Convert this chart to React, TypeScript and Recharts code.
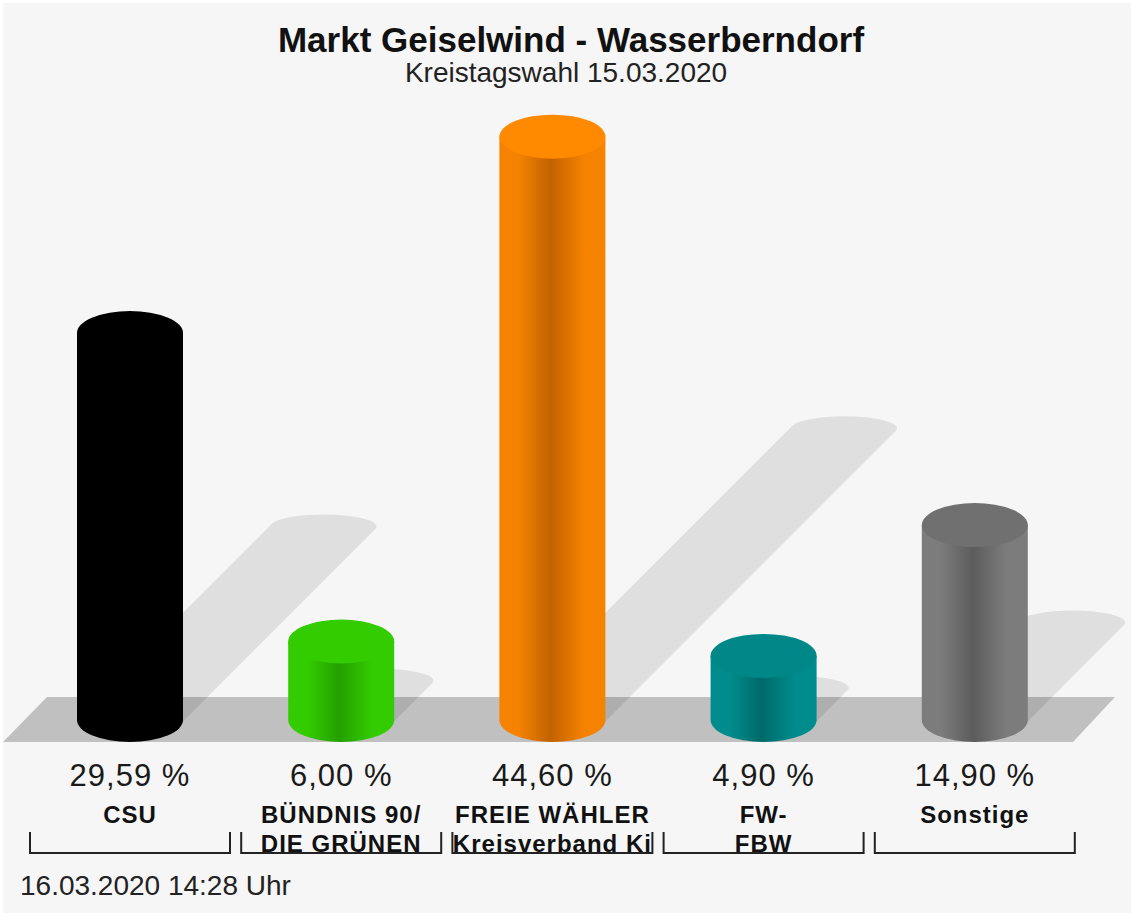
import React from "react";
import { BarChart, Bar, XAxis, YAxis, LabelList } from "recharts";

const PARTIES = ["CSU", "BÜNDNIS 90/\nDIE GRÜNEN", "FREIE WÄHLER\nKreisverband Ki", "FW-\nFBW", "Sonstige"];
const SHARES = [29.59, 6.0, 44.6, 4.9, 14.9];
const COLORS = ["#000000", "#33cc00", "#f58200", "#008c8c", "#7c7c7c"];
const DARK = ["#000000", "#24a000", "#c26200", "#006a6a", "#5c5c5c"];
const TOPS = ["#000000", "#33cc00", "#ff8a00", "#008888", "#707070"];

const TITLE = "Markt Geiselwind - Wasserberndorf";
const SUBTITLE = "Kreistagswahl 15.03.2020";
const STAMP = "16.03.2020 14:28 Uhr";

const W = 1131;
const H = 913;
const PLOT_TOP = 66;
const PLOT_BOTTOM = 720;
const RY = 22;
const FONT = "'Liberation Sans', Arial, sans-serif";

const data = PARTIES.map((name, i) => ({ name, value: SHARES[i], idx: i }));

function shadowPath(cx: number, yb: number, d: number, rx: number, ry: number) {
  const t = Math.atan(ry / rx);
  const c = Math.cos(t);
  const s = Math.sin(t);
  const ax = cx - rx * c, ay = yb - ry * s;
  const bx = cx + d - rx * c, by = yb - d - ry * s;
  const qx = cx + d + rx * c, qy = yb - d + ry * s;
  const dx = cx + rx * c, dy = yb + ry * s;
  return `M${ax},${ay} L${bx},${by} A${rx},${ry} 0 1 1 ${qx},${qy} L${dx},${dy} A${rx},${ry} 0 1 1 ${ax},${ay} Z`;
}

function Cylinder(props: any) {
  const { x, y, width, height, payload } = props;
  const i = payload.idx;
  const rx = width / 2;
  const cx = x + rx;
  const yb = y + height;
  const d = height / 2;
  return (
    <g>
      <path d={shadowPath(cx, yb, d, rx, 12)} fill="rgba(0,0,0,0.09)" />
      <path
        d={`M${x},${y} L${x},${yb} A${rx},${RY} 0 0 0 ${x + width},${yb} L${x + width},${y} Z`}
        fill={`url(#cyl${i})`}
      />
      <ellipse cx={cx} cy={y} rx={rx} ry={RY} fill={TOPS[i]} />
    </g>
  );
}

function ValueLabel(props: any) {
  const { x, y, width, height, value } = props;
  const cx = x + width / 2;
  return (
    <text x={cx} y={y + height + 66} textAnchor="middle" fontFamily={FONT} fontSize={31} fill="#1a1a1a" style={{ letterSpacing: 1 }}>
      {Number(value).toFixed(2).replace(".", ",") + " %"}
    </text>
  );
}

function NameLabel(props: any) {
  const { x, y, width, height, value } = props;
  const cx = x + width / 2;
  const base = y + height;
  const lines = String(value).split("\n");
  const by = base + 133;
  return (
    <g>
      {lines.map((l, k) => (
        <text key={k} x={cx} y={base + 103 + k * 29} textAnchor="middle" fontFamily={FONT} fontWeight="bold" fontSize={24} fill="#111" style={{ letterSpacing: 1 }}>
          {l}
        </text>
      ))}
      <path d={`M${cx - 100},${by - 21} L${cx - 100},${by} L${cx + 100},${by} L${cx + 100},${by - 21}`} fill="none" stroke="#222" strokeWidth={2} />
    </g>
  );
}

export default function App() {
  return (
    <div style={{ position: "absolute", left: 0, top: 0, width: W, height: H, background: "#ffffff" }}>
      <svg width={W} height={H} style={{ position: "absolute", left: 0, top: 0 }}>
        <rect x={3} y={3} width={W - 3} height={H - 3} fill="#f6f6f6" />
        <polygon points="47,697 1115,697 1073,742 3,742" fill="#c0c0c0" />
        <text x={571} y={52} textAnchor="middle" fontFamily={FONT} fontWeight="bold" fontSize={35} fill="#111">{TITLE}</text>
        <text x={566} y={82} textAnchor="middle" fontFamily={FONT} fontSize={28} fill="#222">{SUBTITLE}</text>
        <text x={20} y={895} fontFamily={FONT} fontSize={28} fill="#222">{STAMP}</text>
      </svg>
      <div style={{ position: "absolute", left: 0, top: 0 }}>
        <BarChart width={W} height={H} data={data} margin={{ top: PLOT_TOP, right: 51, left: 24, bottom: H - PLOT_BOTTOM }}>
          <defs>
            {COLORS.map((c, i) => (
              <linearGradient key={i} id={`cyl${i}`} x1="0" y1="0" x2="1" y2="0">
                <stop offset="0" stopColor={c} />
                <stop offset="0.18" stopColor={c} />
                <stop offset="0.48" stopColor={DARK[i]} />
                <stop offset="0.8" stopColor={c} />
                <stop offset="1" stopColor={c} />
              </linearGradient>
            ))}
          </defs>
          <XAxis dataKey="name" hide />
          <YAxis hide domain={[0, 50]} />
          <Bar dataKey="value" barSize={106} shape={Cylinder} isAnimationActive={false}>
            <LabelList dataKey="value" content={ValueLabel} />
            <LabelList dataKey="name" content={NameLabel} />
          </Bar>
        </BarChart>
      </div>
    </div>
  );
}
